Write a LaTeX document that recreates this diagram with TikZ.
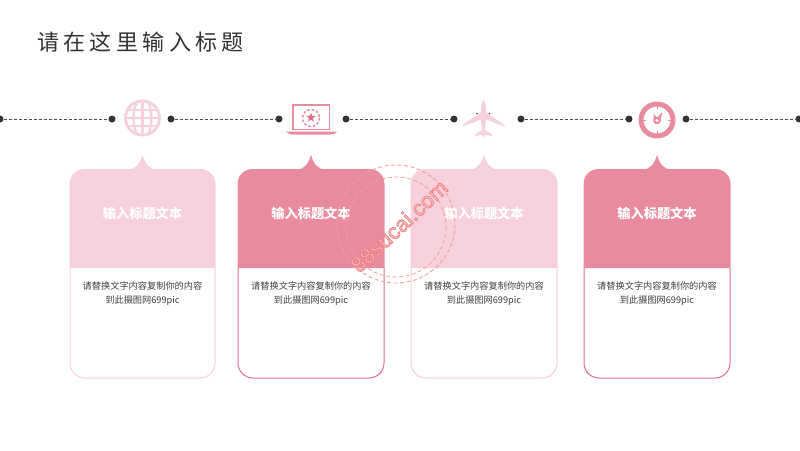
\documentclass[tikz,border=0pt]{standalone}
\usepackage{fontspec}
\usetikzlibrary{shapes.geometric}
\newfontfamily\cjk{Noto Sans CJK SC}
\newfontfamily\cjkwide[LetterSpace=20]{Noto Sans CJK SC}
\setsansfont{Liberation Sans}
\definecolor{palepink}{HTML}{F6D1DC}
\definecolor{palerim}{HTML}{F7CFDB}
\definecolor{deeppink}{HTML}{E98B9F}
\definecolor{deeprim}{HTML}{DF6F8D}
\definecolor{stamp}{HTML}{F39C9C}
\newcommand{\hollow}[1]{\special{pdf:code 2 Tr 0.6 w 0.93 0.47 0.47 RG 0.98 0.76 0.76 rg}#1\special{pdf:code 0 Tr}}
\tikzset{
    dot/.style={circle,fill=black!80,minimum size=7pt,inner sep=0pt},
    link/.style={black!70,line width=.8pt,dash pattern=on 3pt off 2pt},
    headtext/.style={white,font=\cjk\bfseries\fontsize{13.2}{15}\selectfont},
    bodytext/.style={black!75,align=center,font=\cjk\fontsize{9.2}{14}\selectfont},
    ring/.style={stamp,dash pattern=on 4pt off 2.5pt},
}
\begin{document}
\begin{tikzpicture}[x=1pt,y=-1pt]
    \useasboundingbox (0,0) rectangle (800,450);
    \fill[white] (0,0) rectangle (800,450);
    \node[anchor=west,black!80,inner sep=0pt,font=\cjkwide\fontsize{22}{26}\selectfont] (title) at (37,42) {请在这里输入标题};
    % time line
    \foreach \name/\x in {a/0,b/112,c/171,d/279,e/346,f/454,g/521,h/629,i/686,j/799}
        \node[dot] (\name) at (\x,119) {};
    \draw[link] (a) -- (b);
    \draw[link] (c) -- (d);
    \draw[link] (e) -- (f);
    \draw[link] (g) -- (h);
    \draw[link] (i) -- (j);
    % cards
    \foreach \n/\l/\r/\cfill/\crim in {1/70/215/palepink/palerim,2/238/384/deeppink/deeprim,3/411/557/palepink/palerim,4/584/730/deeppink/deeprim}{
        \pgfmathsetmacro{\m}{(\l+\r)/2}
        \draw[\crim,line width=1pt,rounded corners=15pt] (\l,268) -- (\l,378) -- (\r,378) -- (\r,268);
        \fill[\cfill] (\l-.5,268) {[rounded corners=15pt] -- (\l-.5,169) -- (\r+.5,169)} -- (\r+.5,268) -- cycle;
        \fill[\cfill] (\m-15,170) .. controls (\m-7,169) and (\m-3,165) .. (\m,155) .. controls (\m+3,165) and (\m+7,169) .. (\m+15,170) -- cycle;
        \node[headtext] (head\n) at (\m,213.5) {输入标题文本};
        \node[bodytext] (body\n) at (\m,294) {请替换文字内容复制你的内容\\到此摄图网699pic};
    }
    % globe
    \fill[palepink] (142.5,118) circle (18.5);
    \begin{scope}
        \clip (142.5,118) circle (15.5);
        \fill[white] (142.5,118) circle (15.5);
        \draw[palepink,line width=2.3pt] (142.5,118) ellipse (9 and 20);
        \draw[palepink,line width=2.3pt] (142.5,100) -- (142.5,136);
        \draw[palepink,line width=2.3pt] (124,110) -- (161,110);
        \draw[palepink,line width=2.3pt] (124,118) -- (161,118);
        \draw[palepink,line width=2.3pt] (124,126) -- (161,126);
    \end{scope}
    % laptop
    \draw[deeppink,line width=1.5pt] (293,105) rectangle (329.5,129.5);
    \draw[deeppink,line width=1.5pt,dash pattern=on 2.5pt off 2pt] (311,118) circle (8.5);
    \node[star,star points=5,star point ratio=2.4,fill=deeprim,minimum size=10pt,inner sep=0pt] (laptopstar) at (311,117.5) {};
    \fill[deeppink] (286,131.5) -- (337.5,131.5) .. controls (334,134.5) and (332,134.5) .. (330,134.5) -- (293,134.5) .. controls (291,134.5) and (289,134.5) .. (286,131.5) -- cycle;
    % plane
    \fill[palepink] (483.5,100) .. controls (485.5,101) and (486,106) .. (486,112) -- (505,125.5) -- (504.5,126.5) -- (486,119.5) -- (485,130) -- (492,134.5) -- (491.5,136) -- (485,134.5) -- (483.5,138) -- (482,134.5) -- (475.5,136) -- (475,134.5) -- (482,130) -- (481,119.5) -- (462.5,126.5) -- (462,125.5) -- (481,112) .. controls (481,106) and (481.5,101) .. (483.5,100) -- cycle;
    \fill[black!70] (477,113.5) circle (.8);
    \fill[black!70] (489.5,113.5) circle (.8);
    % clock
    \draw[deeppink,line width=5pt] (657,120) circle (16);
    \draw[deeppink,line width=1pt] (657,106) -- (657,109) (657,131) -- (657,134) (643,120) -- (646,120) (668,120) -- (671,120);
    \fill[deeppink] (653.5,113.5) -- (656.5,117.5) -- (657.5,117.5) -- (662.5,112) -- (660.5,120.5) -- (653.5,120.5) -- cycle;
    \fill[deeppink] (657,120.5) circle (3.8);
    \fill[white] (657,120.5) circle (1.6);
    % stamp
    \draw[ring,line width=.9pt] (396,224) circle (59);
    \draw[ring,line width=.8pt] (396,227) circle (50);
    \node[stamp,rotate=43,font=\sffamily\fontsize{22}{24}\selectfont] (mark) at (399,226) {\hollow{88sucai.com}};
\end{tikzpicture}
\end{document}
